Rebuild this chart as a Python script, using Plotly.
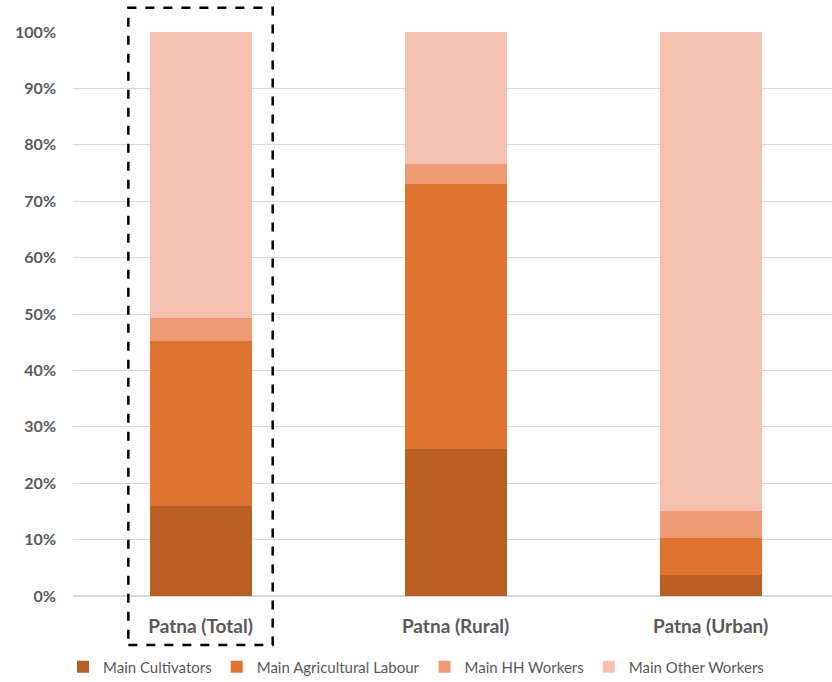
import plotly.graph_objects as go

categories = ["Patna (Total)", "Patna (Rural)", "Patna (Urban)"]
series_names = ["Main Cultivators", "Main Agricultural Labour", "Main HH Workers", "Main Other Workers"]
main_cultivators = [16.0, 26.1, 3.7]
main_agri_labour = [29.2, 46.9, 6.6]
main_hh_workers = [4.1, 3.6, 4.8]
main_other_workers = [50.7, 23.4, 84.9]
tick_vals = [0, 10, 20, 30, 40, 50, 60, 70, 80, 90, 100]
tick_text = [f"{v}%" for v in tick_vals]

colors = ["#B95F24", "#DE742F", "#EE9A72", "#F4C1AE"]
values = [main_cultivators, main_agri_labour, main_hh_workers, main_other_workers]

fig = go.Figure()
for name, vals, c in zip(series_names, values, colors):
    fig.add_trace(go.Bar(x=categories, y=vals, name=name, marker=dict(color=c, line=dict(width=0)),
                         width=0.4))

fig.update_layout(
    barmode="stack",
    width=832, height=682,
    margin=dict(l=73, r=0, t=32, b=86, autoexpand=False),
    plot_bgcolor="white", paper_bgcolor="white",
    font=dict(family="Lato, Open Sans, sans-serif", color="#595959"),
    xaxis=dict(range=[-0.5, 2.476], showgrid=False, showline=False, ticks="",
               ticklabelstandoff=17, automargin=False,
               tickfont=dict(size=19, color="#595959", weight="bold")),
    yaxis=dict(range=[0, 100], tickvals=tick_vals, ticktext=tick_text, showgrid=True,
               gridcolor="#D9D9D9", gridwidth=1, zeroline=True, zerolinecolor="#D9D9D9",
               showline=False, ticks="", ticklabelstandoff=16, automargin=False,
               tickfont=dict(size=16, color="#595959", weight="bold")),
    legend=dict(orientation="h", x=0.5, xref="container", xanchor="center",
                y=0.022, yref="container", yanchor="middle",
                font=dict(size=15, color="#595959"), traceorder="normal",
                itemwidth=30),
    showlegend=True,
)

fig.add_shape(type="rect", xref="x", yref="paper", x0=-0.283, x1=0.283, y0=-0.087, y1=1.043,
              line=dict(color="black", width=2.5, dash="dash"), fillcolor="rgba(0,0,0,0)")

fig.write_html("out.html")
